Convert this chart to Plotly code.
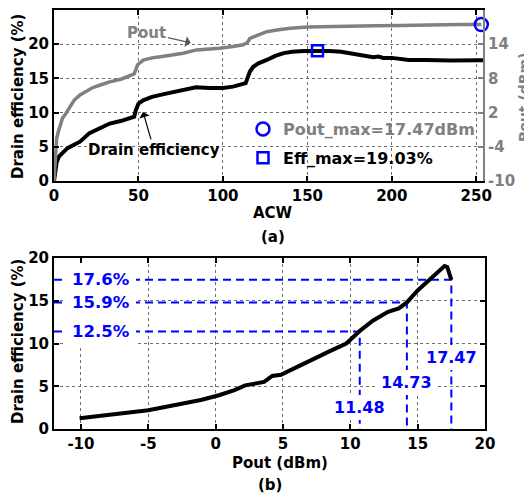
import plotly.graph_objects as go

# ---------------- data: panel (a) ----------------
acw_eff = [0, 0.8, 1.6, 3, 5.5, 8, 11, 15.4, 21, 27, 33, 40, 46, 47.5, 48.5, 50, 52.8, 58, 65, 76.5,
           84, 92, 100, 106, 111, 113.5, 114.5, 116, 118, 121, 126, 131, 136, 141, 148, 156, 163,
           170, 180, 186, 189, 192, 195, 200, 210, 220, 235, 254]
eff_pct = [0, 1.8, 2.8, 3.6, 4.3, 4.8, 5.2, 5.75, 7.0, 7.7, 8.4, 8.8, 9.2, 9.4, 10.4, 11.3, 11.8,
           12.3, 12.7, 13.3, 13.7, 13.6, 13.6, 13.8, 14.1, 14.3, 15.0, 16.0, 16.7, 17.2, 17.7, 18.3,
           18.7, 18.9, 19.0, 19.03, 19.0, 18.9, 18.5, 18.3, 18.1, 18.2, 18.0, 18.0, 17.7, 17.7, 17.6, 17.65]

acw_pout = [0, 0.7, 1.6, 2.5, 3.5, 5, 6.5, 9.5, 12, 15.4, 19, 23, 27, 33, 40, 46, 47.5, 48.5, 49.5,
            52.8, 58, 65, 76.5, 84.4, 92, 98, 106, 112, 114.5, 116, 120, 126, 132, 140, 150, 160,
            175, 190, 205, 220, 230, 240, 253]
pout_dbm = [-10, -6.5, -2.5, -1.4, -0.2, 1.0, 1.6, 3.0, 4.2, 5.1, 5.8, 6.4, 6.8, 7.4, 7.9, 8.6, 8.8,
            9.6, 10.4, 11.2, 11.6, 11.9, 12.4, 13.0, 13.1, 13.3, 13.6, 13.9, 14.3, 15.0, 15.5, 16.2,
            16.5, 16.8, 17.0, 17.1, 17.2, 17.25, 17.3, 17.3, 17.45, 17.45, 17.47]

pout_max_acw = [253]
pout_max_val = [17.47]
eff_max_acw = [156]
eff_max_val = [19.03]

acw_ticks = [0, 50, 100, 150, 200, 250]
eff_ticks_a = [0, 5, 10, 15, 20]
pout_ticks = [-10, -4, 2, 8, 14, 20]

# ---------------- data: panel (b) ----------------
pout_b = [-10.1, -7.5, -5, -3, -1.1, 0.25, 1.4, 2.2, 2.5, 3.3, 3.6, 4.2, 4.85, 6.1, 7.3, 8.6, 9.7,
          10.8, 11.7, 12.8, 13.6, 14.2, 15.0, 15.8, 16.5, 17.0, 17.2, 17.35, 17.5]
eff_b = [1.25, 1.7, 2.2, 2.8, 3.4, 3.95, 4.55, 5.1, 5.2, 5.35, 5.5, 6.2, 6.35, 7.3, 8.25, 9.2, 10.0,
         11.6, 12.7, 13.7, 14.1, 14.8, 16.2, 17.4, 18.4, 19.05, 18.95, 18.0, 17.45]

mark_pout = [10.7, 14.2, 17.5]          # where the dashed guides meet the curve
mark_eff = [11.4, 14.8, 17.45]
mark_pout_labels = ["11.48", "14.73", "17.47"]
mark_eff_labels = ["12.5%", "15.9%", "17.6%"]
mark_pout_label_y = [2.5, 5.4, 8.4]
eff_label_x = -8.5

pout_ticks_b = [-10, -5, 0, 5, 10, 15, 20]
eff_ticks_b = [0, 5, 10, 15, 20]

# ---------------- styling ----------------
FONT = "DejaVu Sans"
GRAY = "rgb(128,128,128)"
BLUE = "rgb(0,0,255)"
OFF = 8                      # page body margin
W, H = 532 - OFF, 497 - OFF
L, T, B = 54 - OFF, 10 - OFF, 68
R = W - (485 - OFF)


def px(xpix):
    return (xpix - OFF - L) / (W - L - R)


def py(ypix):
    return (H - B - (ypix - OFF)) / (H - T - B)


def f(size=15, color="black"):
    return dict(family=FONT, size=size, color=color)


def b(s):
    return "<b>%s</b>" % s


fig = go.Figure()

# panel (a)
fig.add_trace(go.Scatter(x=acw_eff, y=eff_pct, xaxis="x", yaxis="y", mode="lines",
                         line=dict(color="black", width=4), showlegend=False))
fig.add_trace(go.Scatter(x=eff_max_acw, y=eff_max_val, xaxis="x", yaxis="y", mode="markers",
                         marker=dict(symbol="square-open", size=11, color=BLUE, line=dict(width=2.5)),
                         name=b("Eff_max=19.03%"), legendgroup="b", legendrank=2, cliponaxis=False))
fig.add_trace(go.Scatter(x=acw_pout, y=pout_dbm, xaxis="x", yaxis="y2", mode="lines",
                         line=dict(color=GRAY, width=3.5), showlegend=False))
fig.add_trace(go.Scatter(x=pout_max_acw, y=pout_max_val, xaxis="x", yaxis="y2", mode="markers",
                         marker=dict(symbol="circle-open", size=13, color=BLUE, line=dict(width=2.5)),
                         name='<span style="color:rgb(128,128,128)"><b>Pout_max=17.47dBm</b></span>',
                         legendgroup="a", legendrank=1, cliponaxis=False))

# panel (b) dashed guides
for vx, hy in zip(mark_pout, mark_eff):
    fig.add_trace(go.Scatter(x=[-12, vx, vx], y=[hy, hy, 0], xaxis="x2", yaxis="y3", mode="lines",
                             line=dict(color=BLUE, width=2, dash="8px,5px"), showlegend=False))
fig.add_trace(go.Scatter(x=pout_b, y=eff_b, xaxis="x2", yaxis="y3", mode="lines",
                         line=dict(color="black", width=4), showlegend=False))


def ax_common(vals):
    return dict(ticks="inside", ticklen=5, tickwidth=1.5, tickcolor="black", showline=True,
                linecolor="black", linewidth=2, showgrid=True, gridcolor="rgb(110,110,110)",
                griddash="dot", gridwidth=1, zeroline=False, tickfont=f(15), automargin=False,
                tickmode="array", tickvals=vals, ticktext=[b(v) for v in vals])


fig.update_layout(
    template="none",
    width=W, height=H, margin=dict(l=L, r=R, t=T, b=B, pad=0, autoexpand=False),
    paper_bgcolor="white", plot_bgcolor="white",
    xaxis=dict(domain=[0, px(483)], anchor="y", range=[0, 254], mirror="ticks",
               **ax_common(acw_ticks)),
    yaxis=dict(domain=[py(181), 1], anchor="x", range=[0, 25], **ax_common(eff_ticks_a)),
    yaxis2=dict(overlaying="y", side="right", anchor="x", range=[-10, 20], tickmode="array",
                tickvals=pout_ticks, ticktext=[b(v) for v in pout_ticks], automargin=False,
                ticks="inside", ticklen=5, tickwidth=1.5, tickcolor=GRAY, showline=True,
                linecolor=GRAY, linewidth=2, showgrid=False, zeroline=False, tickfont=f(15, GRAY)),
    xaxis2=dict(domain=[0, 1], anchor="y3", range=[-12, 20], mirror="ticks", **ax_common(pout_ticks_b)),
    yaxis3=dict(domain=[0, py(258)], anchor="x2", range=[0, 20], mirror="ticks", **ax_common(eff_ticks_b)),
    legend=dict(x=px(243), y=py(112), xanchor="left", yanchor="top", bgcolor="rgba(0,0,0,0)",
                font=f(16), tracegroupgap=5, traceorder="grouped", borderwidth=0),
)

ann = []
# axis titles
ann.append(dict(text=b("Drain efficiency (%)"), x=px(18), y=py(97), textangle=-90, font=f(15)))
ann.append(dict(text=b("Pout (dBm)"), x=px(524), y=py(97), textangle=-90, font=f(14, GRAY)))
ann.append(dict(text=b("ACW"), x=px(273), y=py(213), font=f(15)))
ann.append(dict(text=b("(a)"), x=px(273), y=py(237), font=f(15)))
ann.append(dict(text=b("Drain efficiency (%)"), x=px(18), y=py(342), textangle=-90, font=f(15)))
ann.append(dict(text=b("Pout (dBm)"), x=px(280), y=py(463), font=f(15)))
ann.append(dict(text=b("(b)"), x=px(270), y=py(485), font=f(15)))
for a in ann:
    a.update(xref="paper", yref="paper", showarrow=False, xanchor="center", yanchor="middle")

# curve callouts
ann.append(dict(text=b("Pout"), x=81, y=20.2, xref="x", yref="y", ax=-44, ay=-10, showarrow=True,
                arrowhead=1, arrowsize=1.5, arrowwidth=1.2, arrowcolor="rgb(90,90,90)", font=f(15, GRAY)))
ann.append(dict(text=b("Drain efficiency"), x=52.7, y=10.1, xref="x", yref="y", ax=11, ay=38,
                showarrow=True, arrowhead=1, arrowsize=1.5, arrowwidth=1.2, arrowcolor="black",
                font=f(15)))

# blue guide labels
for lab, hy in zip(mark_eff_labels, mark_eff):
    ann.append(dict(text=b(lab), x=eff_label_x, y=hy, xref="x2", yref="y3", showarrow=False,
                    bgcolor="white", borderpad=6, borderwidth=0, font=f(16.5, BLUE)))
for lab, vx, ly in zip(mark_pout_labels, mark_pout, mark_pout_label_y):
    ann.append(dict(text=b(lab), x=vx, y=ly, xref="x2", yref="y3", showarrow=False,
                    bgcolor="white", borderpad=3, borderwidth=0, font=f(16, BLUE)))

fig.update_layout(annotations=ann)
fig.write_html("out.html")
